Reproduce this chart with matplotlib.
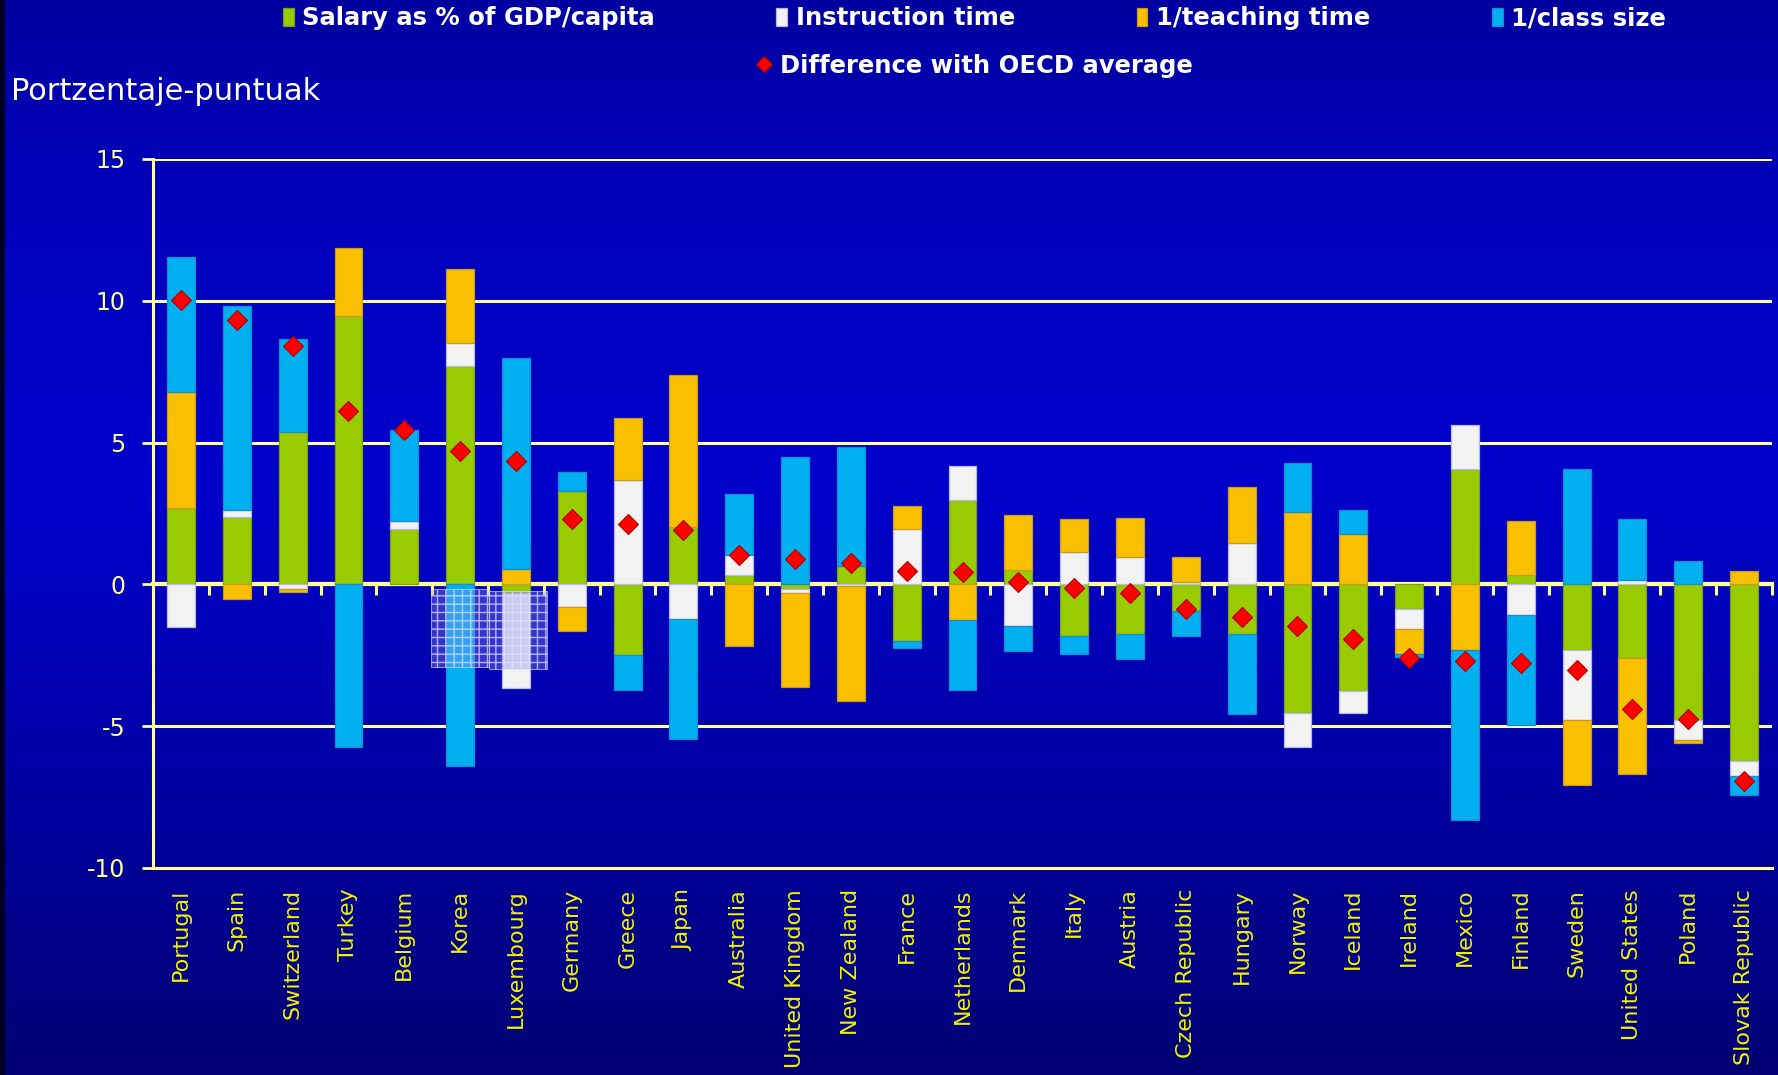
import numpy as np
import matplotlib as mpl
import matplotlib.pyplot as plt
from matplotlib.patches import Rectangle

# ---------------------------------------------------------------------------
# Data (percentage points, decomposition of difference with OECD average)
# ---------------------------------------------------------------------------
countries = ["Portugal", "Spain", "Switzerland", "Turkey", "Belgium", "Korea",
             "Luxembourg", "Germany", "Greece", "Japan", "Australia",
             "United Kingdom", "New Zealand", "France", "Netherlands", "Denmark",
             "Italy", "Austria", "Czech Republic", "Hungary", "Norway", "Iceland",
             "Ireland", "Mexico", "Finland", "Sweden", "United States", "Poland",
             "Slovak Republic"]

salary = [2.71, 2.36, 5.36, 9.48, 1.94, 7.71, -0.32, 3.30, -2.50, 2.01, 0.33,
          -0.18, 0.66, -2.00, 2.99, 0.49, -1.82, -1.76, -0.94, -1.76, -4.53,
          -3.76, -0.87, 4.07, 0.34, -2.31, -2.61, -4.78, -6.22]
instruction = [-1.51, 0.26, -0.17, 0.00, 0.30, 0.81, -3.32, -0.81, 3.68, -1.22,
               0.70, -0.11, -0.05, 1.97, 1.18, -1.47, 1.15, 0.95, 0.09, 1.46,
               -1.21, -0.77, -0.71, 1.56, -1.08, -2.47, 0.15, -0.70, -0.53]
teaching = [4.07, -0.51, -0.09, 2.39, 0.00, 2.61, 0.55, -0.82, 2.20, 5.36,
            -2.17, -3.32, -4.08, 0.79, -1.26, 1.95, 1.17, 1.40, 0.86, 1.96,
            2.56, 1.78, -0.87, -2.31, 1.89, -2.31, -4.08, -0.10, 0.48]
class_size = [4.77, 7.19, 3.30, -5.75, 3.19, -6.42, 7.44, 0.65, -1.24, -4.23,
              2.17, 4.48, 4.17, -0.25, -2.47, -0.89, -0.63, -0.88, -0.88, -2.82,
              1.71, 0.83, -0.12, -6.01, -3.89, 4.06, 2.17, 0.83, -0.67]
difference = [10.03, 9.31, 8.40, 6.11, 5.43, 4.69, 4.34, 2.32, 2.12, 1.91,
              1.03, 0.88, 0.74, 0.48, 0.43, 0.07, -0.14, -0.32, -0.88, -1.16,
              -1.47, -1.94, -2.61, -2.69, -2.76, -3.02, -4.39, -4.75, -6.95]

series_labels = ["Salary as % of GDP/capita", "Instruction time",
                 "1/teaching time", "1/class size"]
diff_label = "Difference with OECD average"

# grid-patterned overlay boxes that sit on the slide (category index, top, bottom)
overlay_boxes = [(5, -0.15, -2.91), (6.04, -0.24, -2.98)]

# ---------------------------------------------------------------------------
# Style
# ---------------------------------------------------------------------------
GREEN, WHITE, ORANGE, BLUE = "#99CC00", "#F2F2F2", "#F9C000", "#00B0F0"
EDGES = ["#7F9F10", "#B8B8E0", "#C89A20", "#1A8AD0"]
PALE = "#FFFF99"
LABEL_YEL = "#F2F200"

mpl.rcParams["font.family"] = "DejaVu Sans"

fig = plt.figure(figsize=(17.78, 10.75), dpi=100)

# background gradient (dark blue -> brighter -> navy)
bg = fig.add_axes([0, 0, 1, 1], zorder=-10)
bg.axis("off")
yy = np.linspace(0, 1, 400)
stops_y = [0.0, 0.15, 0.45, 0.7, 1.0]
stops_b = [0.63, 0.72, 0.80, 0.66, 0.45]
grad = np.zeros((400, 1, 3))
grad[:, 0, 2] = np.interp(yy, stops_y, stops_b)
bg.imshow(grad, aspect="auto", extent=[0, 1, 0, 1])
bg.add_patch(Rectangle((0, 0), 0.003, 1, transform=bg.transAxes,
                       color="#000020", lw=0))
bg.set_xlim(0, 1)
bg.set_ylim(0, 1)

ax = fig.add_axes([0.0861, 0.1926, 0.9105, 0.6595])
ax.set_facecolor("none")

x = np.arange(len(countries))
series = [np.array(salary), np.array(instruction), np.array(teaching),
          np.array(class_size)]
colors = [GREEN, WHITE, ORANGE, BLUE]

pos_cum = np.zeros(len(x))
neg_cum = np.zeros(len(x))
handles = []
for vals, col, ec, lab in zip(series, colors, EDGES, series_labels):
    bottom = np.where(vals >= 0, pos_cum, neg_cum)
    bc = ax.bar(x, vals, width=0.5, bottom=bottom, color=col, edgecolor=ec,
                linewidth=0.9, zorder=3, label=lab)
    handles.append(bc)
    pos_cum = pos_cum + np.where(vals > 0, vals, 0)
    neg_cum = neg_cum + np.where(vals < 0, vals, 0)

dline, = ax.plot(x, difference, linestyle="none", marker="D", markersize=10,
                 markerfacecolor="#FF0000", markeredgecolor="#B00000",
                 markeredgewidth=0.8, zorder=6, label=diff_label)

# patterned overlay boxes
for cx, top, bot in overlay_boxes:
    ax.add_patch(Rectangle((cx - 0.52, bot), 1.04, top - bot,
                           facecolor=(0.55, 0.55, 0.95, 0.38),
                           edgecolor=(0.88, 0.88, 1.0, 0.75), hatch="++",
                           linewidth=0.6, zorder=5))

# axes, grid
ax.set_xlim(-0.5, len(countries) - 0.5)
ax.set_ylim(-10, 15)
ax.set_yticks([-10, -5, 0, 5, 10, 15])
ax.set_yticklabels(["-10", "-5", "0", "5", "10", "15"])
ax.grid(axis="y", color=PALE, linewidth=2.2, zorder=1)
ax.set_axisbelow(True)
for s in ["top", "right"]:
    ax.spines[s].set_visible(False)
ax.spines["left"].set_color(PALE)
ax.spines["left"].set_linewidth(2.2)
ax.spines["bottom"].set_color(PALE)
ax.spines["bottom"].set_linewidth(2.2)
ax.tick_params(axis="y", colors=PALE, labelcolor=PALE, labelsize=17,
               length=8, width=2, direction="out", pad=12)
ax.set_xticks(x)
ax.set_xticklabels(countries, rotation=90, color=LABEL_YEL, fontsize=16)
ax.tick_params(axis="x", length=0, pad=15)

# zero axis with category-boundary ticks
zero = ax.secondary_xaxis(0.4)
zero.set_xticks(np.arange(-0.5, len(countries), 1.0))
zero.tick_params(axis="x", length=8, width=2.2, color=PALE, direction="out",
                 labelbottom=False)
zero.spines["bottom"].set_color(PALE)
zero.spines["bottom"].set_linewidth(3)

# legends
leg1 = fig.legend(handles=handles, labels=series_labels, loc="center",
                  bbox_to_anchor=(0.548, 0.983), ncol=4, frameon=False,
                  prop={"weight": "bold", "size": 17.5},
                  handlelength=0.45, handleheight=0.8, handletextpad=0.35,
                  columnspacing=5.0, labelcolor="white")
leg2 = fig.legend(handles=[dline], labels=[diff_label], loc="center",
                  bbox_to_anchor=(0.548, 0.939), frameon=False,
                  prop={"weight": "bold", "size": 17.5}, handlelength=0.6,
                  handletextpad=0.35, labelcolor="white", markerscale=0.8)

fig.text(0.006, 0.915, "Portzentaje-puntuak", color="white", fontsize=22,
         ha="left", va="center")

fig.savefig("out.png", dpi=100)
